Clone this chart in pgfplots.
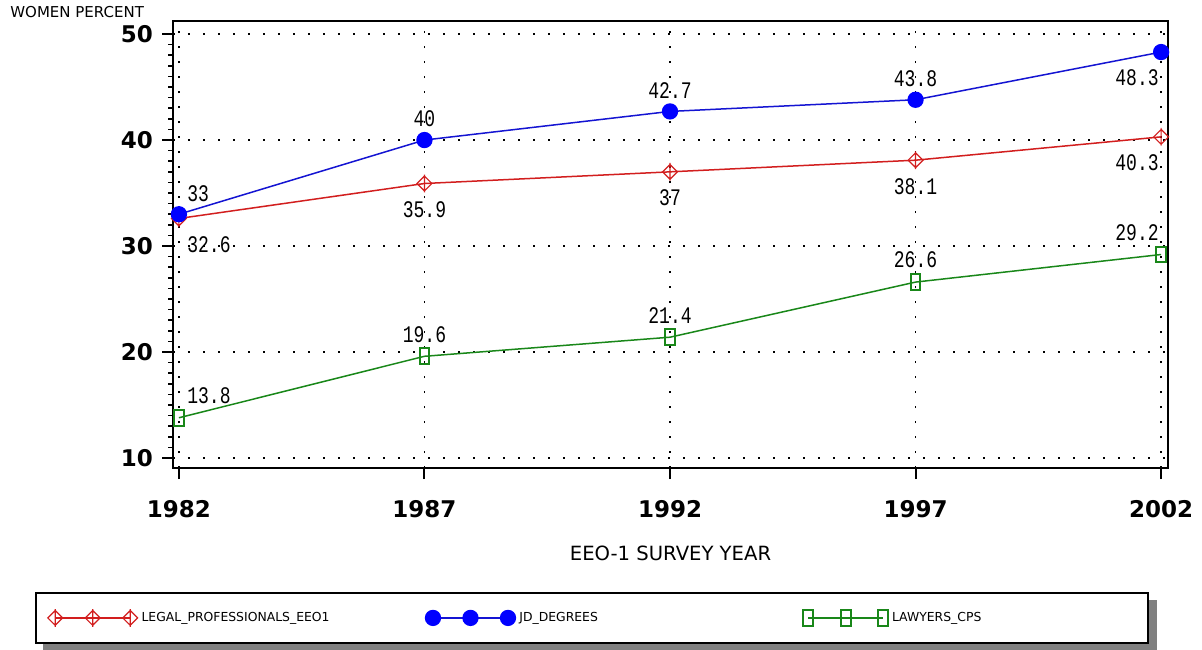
\documentclass[border=0pt]{standalone}
\usepackage{graphicx}
\usepackage{pgfplots}
\pgfplotsset{compat=1.18}
\usepackage{pgfplotstable}
\usepackage{fontspec}
\setmainfont{DejaVu Sans}
\newfontfamily\lblfont{Liberation Mono}
\usetikzlibrary{calc}
\pgfdeclarelayer{background}
\pgfsetlayers{background,main}

\definecolor{sasred}{RGB}{210,30,30}
\definecolor{sasblue}{RGB}{20,20,210}
\definecolor{sasmarkblue}{RGB}{0,0,255}
\definecolor{sasgreen}{RGB}{25,135,25}

\pgfdeclareplotmark{dcross}{%
  \pgfpathmoveto{\pgfqpoint{0pt}{\pgfplotmarksize}}%
  \pgfpathlineto{\pgfqpoint{\pgfplotmarksize}{0pt}}%
  \pgfpathlineto{\pgfqpoint{0pt}{-\pgfplotmarksize}}%
  \pgfpathlineto{\pgfqpoint{-\pgfplotmarksize}{0pt}}%
  \pgfpathclose
  \pgfpathmoveto{\pgfqpoint{0pt}{1.2\pgfplotmarksize}}%
  \pgfpathlineto{\pgfqpoint{0pt}{-1.2\pgfplotmarksize}}%
  \pgfusepathqstroke}

\pgfdeclareplotmark{ovalrect}{%
  \pgfsetcornersarced{\pgfpoint{1.5pt}{1.5pt}}%
  \pgfpathrectanglecorners{\pgfqpoint{-0.62\pgfplotmarksize}{-\pgfplotmarksize}}{\pgfqpoint{0.62\pgfplotmarksize}{\pgfplotmarksize}}%
  \pgfusepathqstroke}

\pgfplotstableread{
x y
1982 32.6
1987 35.9
1992 37
1997 38.1
2002 40.3
}\legal

\pgfplotstableread{
x y
1982 33
1987 40
1992 42.7
1997 43.8
2002 48.3
}\jd

\pgfplotstableread{
x y
1982 13.8
1987 19.6
1992 21.4
1997 26.6
2002 29.2
}\lawyers

\pgfplotsset{
  lab/.style n args={3}{
    draw=none, mark=none, forget plot,
    point meta=explicit symbolic,
    nodes near coords={\scalebox{0.95}[1.25]{\fontsize{9.5}{10}\lblfont\pgfplotspointmeta}},
    every node near coord/.append style={anchor=#1, xshift=#2, yshift=#3, text=black, inner sep=0pt},
  },
  first/.style={skip coords between index={1}{5}},
  mid/.style={skip coords between index={0}{1}, skip coords between index={4}{5}},
  last/.style={skip coords between index={0}{4}},
  legend image code/.code={%
    \draw[mark repeat=1,mark phase=1,#1] plot coordinates {(0pt,0pt) (18.75pt,0pt) (37.5pt,0pt)};%
  },
}

\begin{document}
\begin{tikzpicture}
\begin{axis}[
  name=ax,
  scale only axis,
  width=497.5pt, height=223.5pt,
  xmin=1981.88, xmax=2002.14,
  ymin=9.06, ymax=51.23,
  xtick={1982,1987,1992,1997,2002},
  ytick={10,20,30,40,50},
  minor y tick num=9,
  xtick pos=bottom, ytick pos=left,
  tick align=outside,
  xtick style={black, line width=1pt},
  ytick style={black, line width=0.8pt},
  major tick length=5.5pt, minor tick length=2.5pt,
  /pgf/number format/1000 sep={},
  /pgf/number format/assume math mode=true,
  ticklabel style={font=\fontsize{11.5}{13}\selectfont\bfseries},
  xticklabel style={yshift=-7pt},
  yticklabel style={xshift=-1pt},
  axis line style={black, line width=1pt},
  grid=major,
  major grid style={black, line width=0.9pt, dash pattern=on 0.9pt off 6.6pt},
  clip=false,
  xlabel={EEO-1 SURVEY YEAR},
  xlabel style={at={(axis description cs:0.5,0)}, anchor=center, yshift=-42.5pt, font=\fontsize{9.8}{11}\selectfont},
  legend columns=3,
  legend style={
    name=leg,
    at={(axis description cs:-0.1387,-0.2774)}, anchor=north west,
    draw=black, line width=0.8pt, fill=white,
    inner xsep=6pt, inner ysep=7.5pt,
    font=\fontsize{6.2}{7}\selectfont,
    cells={anchor=west},
  },
]
\addplot[sasred, line width=0.75pt, mark=dcross, mark size=3.7pt, mark options={line width=0.6pt}]
  table[x=x, y=y] {\legal};
\addlegendentry{\makebox[140pt][l]{LEGAL\_PROFESSIONALS\_EEO1}}
\addplot[sasblue, line width=0.75pt, mark=*, mark size=3.7pt, mark options={draw=sasmarkblue, fill=sasmarkblue}]
  table[x=x, y=y] {\jd};
\addlegendentry{\makebox[140pt][l]{JD\_DEGREES}}
\addplot[sasgreen, line width=0.75pt, mark=ovalrect, mark size=3.9pt, mark options={line width=1pt}]
  table[x=x, y=y] {\lawyers};
\addlegendentry{\makebox[120pt][l]{LAWYERS\_CPS}}

% data labels
\addplot[lab={west}{4pt}{-13pt}, first] table[x=x, y=y, meta=y] {\legal};
\addplot[lab={center}{0pt}{-13pt}, mid] table[x=x, y=y, meta=y] {\legal};
\addplot[lab={east}{-1pt}{-13pt}, last] table[x=x, y=y, meta=y] {\legal};
\addplot[lab={west}{4pt}{10.5pt}, first] table[x=x, y=y, meta=y] {\jd};
\addplot[lab={center}{0pt}{10.5pt}, mid] table[x=x, y=y, meta=y] {\jd};
\addplot[lab={east}{-1pt}{-13pt}, last] table[x=x, y=y, meta=y] {\jd};
\addplot[lab={west}{4pt}{11pt}, first] table[x=x, y=y, meta=y] {\lawyers};
\addplot[lab={center}{0pt}{11pt}, mid] table[x=x, y=y, meta=y] {\lawyers};
\addplot[lab={east}{-1pt}{11pt}, last] table[x=x, y=y, meta=y] {\lawyers};
\end{axis}
\begin{pgfonlayer}{background}
\fill[black!50] ([shift={(4pt,-4pt)}]leg.south west) rectangle ([shift={(4pt,-4pt)}]leg.north east);
\end{pgfonlayer}
\node[anchor=west, font=\fontsize{7.5}{8}\selectfont, inner sep=0pt] at ($(ax.north west)+(-81.5pt,4.5pt)$) {WOMEN PERCENT};
\pgfresetboundingbox
\path[use as bounding box] ($(ax.south west)+(-86.5pt,-90.5pt)$) rectangle ++(601pt,324.5pt);
\end{tikzpicture}
\end{document}
